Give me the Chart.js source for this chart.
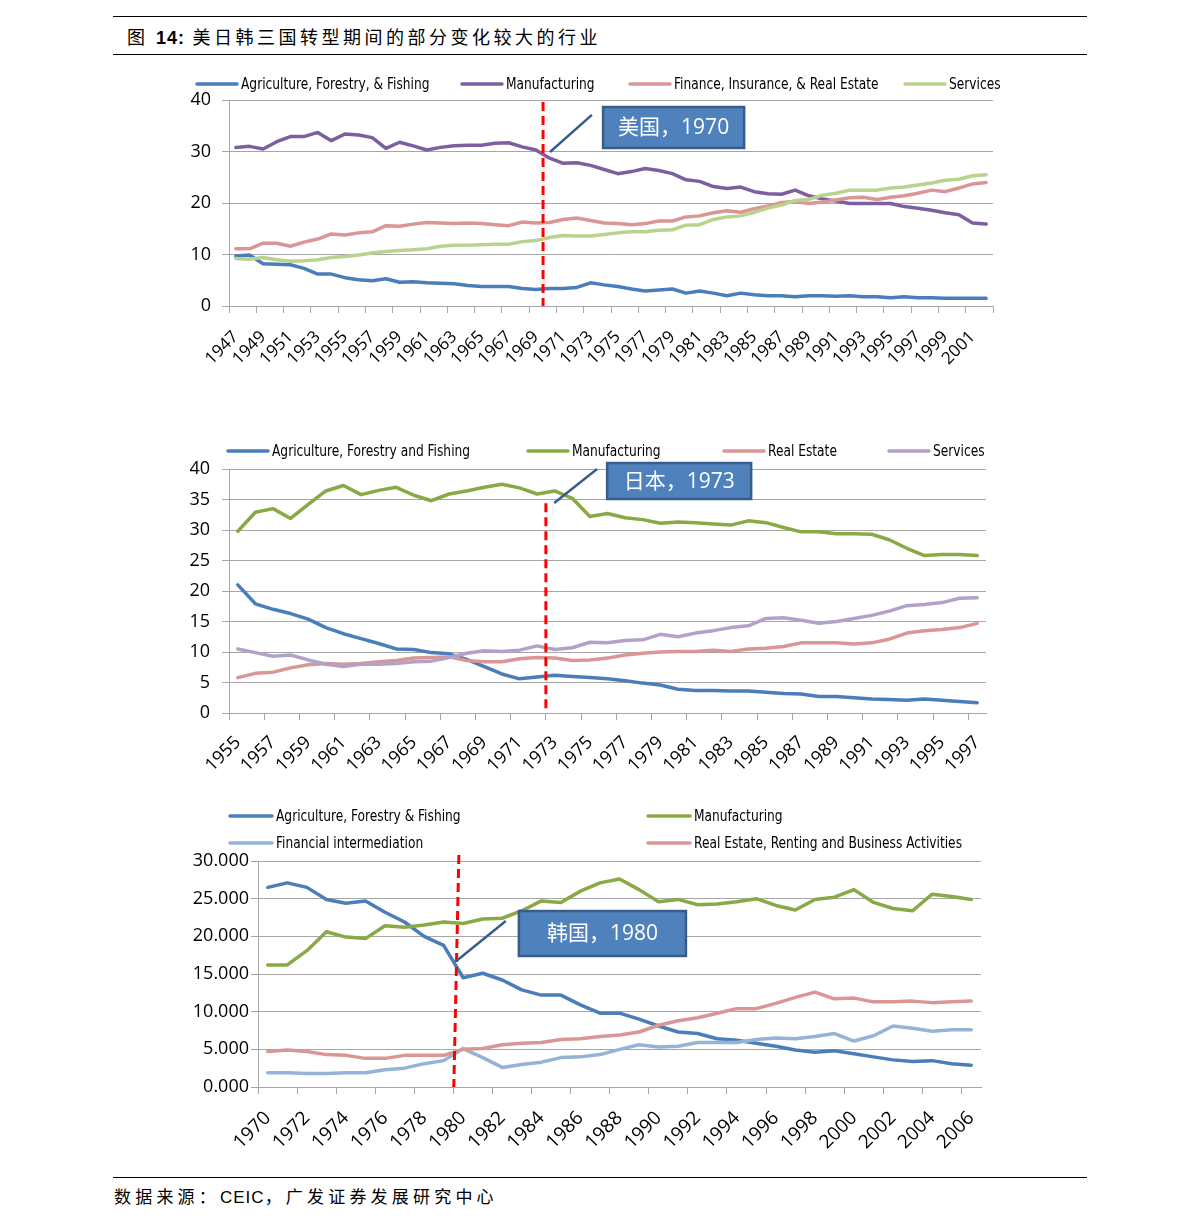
<!DOCTYPE html>
<html>
<head>
<meta charset="utf-8">
<title>美日韩三国转型期间的部分变化较大的行业</title>
<script src="https://cdn.jsdelivr.net/npm/chart.js@4.4.1/dist/chart.umd.min.js"></script>
<style>
  html, body { margin: 0; padding: 0; background: #fff; }
  body { width: 1191px; height: 1229px; position: relative; overflow: hidden; font-family: "Noto Sans CJK SC", sans-serif; color: #000; }
  .rule { position: absolute; left: 113px; width: 974px; height: 0; border-top: 1px solid #000; }
  #title { position: absolute; left: 127px; top: 24px; font-size: 18px; line-height: 24px; letter-spacing: 3.5px; white-space: nowrap; }
  #title b { font-family: "Liberation Sans", Arial, sans-serif; letter-spacing: 1px; }
  #source { position: absolute; left: 114px; top: 1184px; font-size: 17px; line-height: 24px; letter-spacing: 4.2px; white-space: nowrap; }
  #source span { font-family: "Liberation Sans", Arial, sans-serif; letter-spacing: 1px; }
  .wrap { position: absolute; left: 0; width: 1191px; }
</style>
</head>
<body>
<div class="rule" style="top:16px"></div>
<div id="title">图 <b>14:</b> 美日韩三国转型期间的部分变化较大的行业</div>
<div class="rule" style="top:54px"></div>

<div class="wrap" style="top:60px;height:320px"><canvas id="usChart"></canvas></div>
<div class="wrap" style="top:430px;height:360px"><canvas id="jpChart"></canvas></div>
<div class="wrap" style="top:795px;height:375px"><canvas id="krChart"></canvas></div>

<div class="rule" style="top:1177px"></div>
<div id="source">数据来源：<span>CEIC</span>，广发证券发展研究中心</div>

<script>
// ---- US, 1947-2002 ----
const usYears = [1947, 1948, 1949, 1950, 1951, 1952, 1953, 1954, 1955, 1956, 1957, 1958, 1959, 1960,
  1961, 1962, 1963, 1964, 1965, 1966, 1967, 1968, 1969, 1970, 1971, 1972, 1973, 1974, 1975, 1976,
  1977, 1978, 1979, 1980, 1981, 1982, 1983, 1984, 1985, 1986, 1987, 1988, 1989, 1990, 1991, 1992,
  1993, 1994, 1995, 1996, 1997, 1998, 1999, 2000, 2001, 2002];
const usAgri = [9.7, 9.9, 8.2, 8.1, 8.0, 7.3, 6.2, 6.2, 5.5, 5.1, 4.9, 5.3, 4.6, 4.7, 4.5, 4.4, 4.3, 4.0, 3.8, 3.8,
  3.8, 3.4, 3.2, 3.4, 3.4, 3.6, 4.5, 4.1, 3.8, 3.3, 2.9, 3.1, 3.3, 2.5, 2.9, 2.5, 2.0, 2.5, 2.2, 2.0,
  2.0, 1.8, 2.0, 2.0, 1.9, 2.0, 1.8, 1.8, 1.6, 1.8, 1.6, 1.6, 1.5, 1.5, 1.5, 1.5];
const usManu = [30.8, 31.0, 30.5, 31.9, 32.9, 32.9, 33.7, 32.1, 33.4, 33.2, 32.7, 30.6, 31.8, 31.1, 30.3, 30.8, 31.1, 31.2, 31.2, 31.6,
  31.7, 30.9, 30.3, 28.7, 27.7, 27.8, 27.3, 26.5, 25.7, 26.1, 26.7, 26.3, 25.7, 24.5, 24.2, 23.2, 22.8, 23.1, 22.2, 21.8,
  21.7, 22.5, 21.4, 20.8, 20.4, 19.9, 19.9, 19.9, 19.9, 19.3, 19.0, 18.6, 18.1, 17.7, 16.1, 15.9];
const usFire = [11.1, 11.1, 12.2, 12.2, 11.6, 12.4, 13.0, 14.0, 13.8, 14.2, 14.4, 15.6, 15.5, 15.9, 16.2, 16.1, 16.0, 16.1, 16.0, 15.8,
  15.6, 16.3, 16.1, 16.2, 16.8, 17.1, 16.6, 16.1, 16.0, 15.8, 16.0, 16.5, 16.5, 17.3, 17.5, 18.1, 18.5, 18.2, 18.9, 19.4,
  20.1, 20.3, 19.9, 20.2, 20.6, 21.0, 21.1, 20.7, 21.1, 21.4, 21.9, 22.5, 22.2, 22.9, 23.7, 24.0];
const usServ = [9.2, 9.1, 9.4, 9.0, 8.7, 8.8, 9.0, 9.4, 9.6, 9.9, 10.3, 10.6, 10.8, 10.9, 11.1, 11.6, 11.8, 11.8, 11.9, 12.0,
  12.0, 12.5, 12.7, 13.3, 13.7, 13.6, 13.6, 13.9, 14.2, 14.4, 14.4, 14.7, 14.8, 15.7, 15.8, 16.8, 17.3, 17.5, 18.2, 19.0,
  19.6, 20.5, 20.7, 21.5, 21.9, 22.5, 22.5, 22.5, 22.9, 23.1, 23.5, 23.9, 24.4, 24.6, 25.3, 25.5];

// ---- Japan, 1955-1997 ----
const jpYears = [1955, 1956, 1957, 1958, 1959, 1960, 1961, 1962, 1963, 1964, 1965, 1966, 1967, 1968, 1969,
  1970, 1971, 1972, 1973, 1974, 1975, 1976, 1977, 1978, 1979, 1980, 1981, 1982, 1983, 1984, 1985, 1986,
  1987, 1988, 1989, 1990, 1991, 1992, 1993, 1994, 1995, 1996, 1997];
const jpAgri = [21.0, 17.9, 17.0, 16.3, 15.4, 14.0, 13.0, 12.2, 11.4, 10.5, 10.4, 9.9, 9.7, 8.8, 7.6, 6.4, 5.6, 5.9, 6.2, 6.0,
  5.8, 5.6, 5.3, 4.9, 4.6, 3.9, 3.7, 3.7, 3.6, 3.6, 3.4, 3.2, 3.1, 2.7, 2.7, 2.5, 2.3, 2.2, 2.1, 2.3, 2.1, 1.9, 1.7];
const jpManu = [29.8, 32.9, 33.5, 31.9, 34.2, 36.4, 37.3, 35.8, 36.5, 37.0, 35.7, 34.8, 35.9, 36.4, 37.0, 37.5, 36.9, 35.9, 36.4, 35.2,
  32.2, 32.7, 32.0, 31.7, 31.1, 31.3, 31.2, 31.0, 30.8, 31.5, 31.2, 30.4, 29.7, 29.7, 29.4, 29.4, 29.3, 28.4, 27.0, 25.8, 26.0, 26.0, 25.8];
const jpReal = [5.8, 6.5, 6.7, 7.4, 7.9, 8.1, 8.0, 8.1, 8.4, 8.6, 9.0, 9.1, 9.2, 8.6, 8.4, 8.4, 8.9, 9.1, 9.0, 8.6,
  8.7, 9.0, 9.5, 9.8, 10.0, 10.1, 10.1, 10.3, 10.1, 10.5, 10.6, 10.9, 11.5, 11.5, 11.5, 11.3, 11.5, 12.1, 13.1, 13.5, 13.7, 14.0, 14.7];
const jpServ = [10.5, 9.9, 9.3, 9.5, 8.7, 8.0, 7.6, 8.0, 8.0, 8.1, 8.4, 8.5, 9.1, 9.8, 10.2, 10.1, 10.3, 11.0, 10.4, 10.7,
  11.6, 11.5, 11.9, 12.0, 12.9, 12.5, 13.1, 13.5, 14.0, 14.3, 15.5, 15.6, 15.2, 14.7, 15.0, 15.5, 16.0, 16.7, 17.6, 17.8, 18.1, 18.8, 18.9];

// ---- Korea, 1970-2006 ----
const krYears = [1970, 1971, 1972, 1973, 1974, 1975, 1976, 1977, 1978, 1979, 1980, 1981, 1982, 1983, 1984,
  1985, 1986, 1987, 1988, 1989, 1990, 1991, 1992, 1993, 1994, 1995, 1996, 1997, 1998, 1999, 2000,
  2001, 2002, 2003, 2004, 2005, 2006];
const krAgri = [26.5, 27.1, 26.5, 24.9, 24.4, 24.7, 23.2, 21.9, 20.0, 18.8, 14.5, 15.1, 14.2, 12.9, 12.2, 12.2, 10.9, 9.8, 9.8, 9.0,
  8.1, 7.3, 7.1, 6.4, 6.2, 5.8, 5.4, 4.9, 4.6, 4.8, 4.4, 4.0, 3.6, 3.4, 3.5, 3.1, 2.9];
const krManu = [16.2, 16.2, 18.1, 20.6, 19.9, 19.7, 21.4, 21.2, 21.5, 21.9, 21.7, 22.3, 22.4, 23.4, 24.7, 24.5, 26.0, 27.1, 27.6, 26.2,
  24.6, 24.9, 24.2, 24.3, 24.6, 25.0, 24.1, 23.5, 24.9, 25.2, 26.2, 24.5, 23.7, 23.4, 25.6, 25.3, 24.9];
const krFin = [1.9, 1.9, 1.8, 1.8, 1.9, 1.9, 2.3, 2.5, 3.1, 3.5, 5.1, 3.9, 2.6, 3.0, 3.3, 3.9, 4.0, 4.3, 5.0, 5.6,
  5.3, 5.4, 5.9, 5.9, 5.9, 6.3, 6.5, 6.4, 6.7, 7.1, 6.1, 6.8, 8.1, 7.8, 7.4, 7.6, 7.6];
const krReal = [4.7, 4.9, 4.7, 4.3, 4.2, 3.8, 3.8, 4.2, 4.2, 4.2, 5.0, 5.1, 5.6, 5.8, 5.9, 6.3, 6.4, 6.7, 6.9, 7.3,
  8.2, 8.8, 9.2, 9.8, 10.4, 10.4, 11.1, 11.9, 12.6, 11.7, 11.8, 11.3, 11.3, 11.4, 11.2, 11.3, 11.4];

const GRID = '#A6A6A6';
const BLUE = '#4A7EBB';
const ROSE = '#D99694';
const TICK_FONT = '"Open Sans", "Liberation Sans", sans-serif';

// legend drawn as line sample + label (condensed), positions given per chart
const lineLegend = {
  id: 'lineLegend',
  afterDraw(chart, args, opts) {
    const ctx = chart.ctx;
    ctx.save();
    ctx.font = '16px "Liberation Sans Narrow", "DejaVu Sans Condensed", sans-serif';
    ctx.textBaseline = 'middle';
    ctx.textAlign = 'left';
    ctx.lineCap = 'round';
    chart.data.datasets.forEach((ds, i) => {
      const [x, y] = opts.items[i];
      ctx.strokeStyle = ds.borderColor;
      ctx.lineWidth = 3.5;
      ctx.beginPath();
      ctx.moveTo(x, y);
      ctx.lineTo(x + opts.sample, y);
      ctx.stroke();
      ctx.save();
      ctx.translate(x + opts.sample + 4, y + 1);
      ctx.scale(0.85, 1);
      ctx.fillStyle = '#000';
      ctx.fillText(ds.label, 0, 0);
      ctx.restore();
    });
    ctx.restore();
  }
};

// red dashed transition marker, connector and callout box, in year / value units
const transition = {
  id: 'transition',
  afterDraw(chart, args, o) {
    const xs = chart.scales.x, ys = chart.scales.y, ctx = chart.ctx;
    const px = yr => xs.getPixelForValue(yr - o.firstYear);
    const py = v => ys.getPixelForValue(v);
    ctx.save();
    ctx.strokeStyle = '#FF0000';
    ctx.lineWidth = 3;
    ctx.setLineDash([9, 5]);
    ctx.beginPath();
    ctx.moveTo(px(o.marker.xTop), py(o.marker.top));
    ctx.lineTo(px(o.marker.xBottom), py(0));
    ctx.stroke();
    ctx.setLineDash([]);

    ctx.strokeStyle = '#385D8A';
    ctx.lineWidth = 2.5;
    ctx.beginPath();
    ctx.moveTo(px(o.link[0]), py(o.link[1]));
    ctx.lineTo(px(o.link[2]), py(o.link[3]));
    ctx.stroke();

    const l = px(o.box.from), r = px(o.box.to), t = py(o.box.top), b = py(o.box.bottom);
    ctx.fillStyle = '#4F81BD';
    ctx.fillRect(l, t, r - l, b - t);
    ctx.lineWidth = 2.5;
    ctx.strokeRect(l, t, r - l, b - t);
    ctx.fillStyle = '#fff';
    ctx.font = '21px "Open Sans", "Noto Sans CJK SC", sans-serif';
    ctx.textAlign = 'center';
    ctx.textBaseline = 'middle';
    ctx.fillText(o.text, (l + r) / 2, (t + b) / 2 + 1);
    ctx.restore();
  }
};

function makeChart(id, cfg) {
  const n = cfg.years.length;
  return new Chart(document.getElementById(id), {
    type: 'line',
    data: {
      labels: cfg.years.map(String),
      datasets: cfg.series.map((s, i) => ({
        label: s.label,
        data: s.data,
        borderColor: s.color,
        backgroundColor: s.color,
        borderWidth: 3.5,
        pointRadius: 0,
        tension: 0,
        fill: false,
        borderJoinStyle: 'round',
        borderCapStyle: 'round',
        order: cfg.series.length - i
      }))
    },
    options: {
      responsive: true,
      maintainAspectRatio: false,
      animation: false,
      layout: { padding: cfg.padding },
      plugins: {
        legend: { display: false },
        tooltip: { enabled: false },
        lineLegend: cfg.legend,
        transition: cfg.transition
      },
      scales: {
        x: {
          offset: true,
          grid: {
            offset: true,
            drawOnChartArea: false,
            drawTicks: true,
            tickLength: 7,
            tickColor: c => ((c.index === undefined ? n : c.index) % 2 === 0 ? GRID : 'rgba(0,0,0,0)')
          },
          border: { display: true, color: GRID },
          ticks: {
            autoSkip: false,
            maxRotation: 45,
            minRotation: 45,
            padding: cfg.xPad,
            color: '#000',
            font: { family: TICK_FONT, size: cfg.xFont },
            callback: (v, i) => (i % 2 === 0 ? String(cfg.years[i]) : '')
          },
          afterFit: s => { s.height = cfg.xHeight; }
        },
        y: {
          min: 0,
          max: cfg.yMax,
          ticks: {
            stepSize: cfg.yStep,
            color: '#000',
            padding: cfg.yPad,
            font: { family: TICK_FONT, size: 18 },
            callback: v => cfg.yFormat(v)
          },
          grid: { color: GRID, tickLength: 7 },
          border: { display: true, color: GRID },
          afterFit: s => { s.width = cfg.yWidth; }
        }
      }
    },
    plugins: [lineLegend, transition]
  });
}

makeChart('usChart', {
  years: usYears,
  series: [
    { label: 'Agriculture, Forestry, & Fishing', data: usAgri, color: BLUE },
    { label: 'Manufacturing', data: usManu, color: '#7D5FA0' },
    { label: 'Finance, Insurance, & Real Estate', data: usFire, color: ROSE },
    { label: 'Services', data: usServ, color: '#B9D28E' }
  ],
  padding: { left: 159, right: 198, top: 40, bottom: 0 },
  yWidth: 70, xHeight: 74, xFont: 17, xPad: 14, yMax: 40, yStep: 10, yPad: 11,
  yFormat: v => String(v),
  legend: { sample: 40, items: [[197, 24], [462, 24], [630, 24], [905, 24]] },
  transition: {
    firstYear: 1947,
    marker: { xTop: 1969.52, xBottom: 1969.52, top: 39.6 },
    link: [1970.03, 29.9, 1973.1, 37.1],
    box: { from: 1973.92, to: 1984.26, top: 38.64, bottom: 30.68 },
    text: '美国，1970'
  }
});

makeChart('jpChart', {
  years: jpYears,
  series: [
    { label: 'Agriculture, Forestry and Fishing', data: jpAgri, color: BLUE },
    { label: 'Manufacturing', data: jpManu, color: '#88A944' },
    { label: 'Real Estate', data: jpReal, color: ROSE },
    { label: 'Services', data: jpServ, color: '#B3A2C7' }
  ],
  padding: { left: 159, right: 205, top: 39, bottom: 0 },
  yWidth: 70, xHeight: 77, xFont: 18, xPad: 12, yMax: 40, yStep: 5, yPad: 12,
  yFormat: v => String(v),
  legend: { sample: 40, items: [[228, 21], [528, 21], [724, 21], [889, 21]] },
  transition: {
    firstYear: 1955,
    marker: { xTop: 1972.5, xBottom: 1972.5, top: 34.4 },
    link: [1972.97, 34.43, 1975.41, 40.0],
    box: { from: 1975.98, to: 1984.16, top: 40.98, bottom: 35.08 },
    text: '日本，1973'
  }
});

makeChart('krChart', {
  years: krYears,
  series: [
    { label: 'Agriculture, Forestry & Fishing', data: krAgri, color: BLUE },
    { label: 'Manufacturing', data: krManu, color: '#88A944' },
    { label: 'Financial intermediation', data: krFin, color: '#95B3D7' },
    { label: 'Real Estate, Renting and Business Activities', data: krReal, color: ROSE }
  ],
  padding: { left: 178, right: 210, top: 66, bottom: 0 },
  yWidth: 80, xHeight: 83, xFont: 19, xPad: 13, yMax: 30, yStep: 5, yPad: 2,
  yFormat: v => v.toFixed(3),
  legend: { sample: 42, items: [[230, 21], [648, 21], [230, 48], [648, 48]] },
  transition: {
    firstYear: 1970,
    marker: { xTop: 1979.78, xBottom: 1979.52, top: 30.8 },
    link: [1979.65, 16.73, 1982.18, 22.04],
    box: { from: 1982.85, to: 1991.4, top: 23.36, bottom: 17.39 },
    text: '韩国，1980'
  }
});
</script>
</body>
</html>
